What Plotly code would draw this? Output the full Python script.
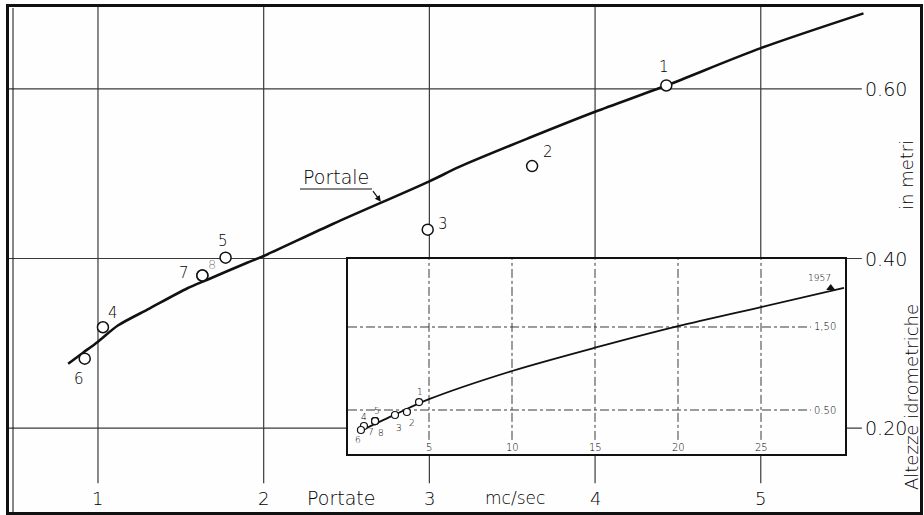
import plotly.graph_objects as go

W, H = 924, 515

# ---- data ----
# main rating curve: Portate (mc/sec) vs Altezze idrometriche (m)
curve_q = [0.82, 0.91, 1.0, 1.12, 1.31, 1.54, 1.66, 1.9, 2.0, 2.42, 3.0, 3.18, 3.6, 4.0, 4.43, 5.0, 5.62]
curve_h = [0.276, 0.289, 0.302, 0.321, 0.341, 0.365, 0.375, 0.395, 0.403, 0.441, 0.491, 0.508, 0.542, 0.573, 0.604, 0.648, 0.689]

# measured points (main chart)
pt_labels = ["1", "2", "3", "4", "5", "6", "7", "8"]
pt_q = [4.43, 3.62, 2.99, 1.03, 1.77, 0.92, 1.63, 1.63]
pt_h = [0.604, 0.509, 0.434, 0.319, 0.401, 0.282, 0.380, 0.380]

# inset: extended curve
inset_curve_q = [1.0, 3.0, 5.0, 10.0, 15.0, 20.0, 25.0, 30.0]
inset_curve_h = [0.26, 0.45, 0.63, 0.97, 1.25, 1.51, 1.74, 1.97]

# inset: measured points
inset_pt_q = [4.40, 3.67, 2.95, 1.08, 1.75, 0.90, 1.75, 1.75]
inset_pt_h = [0.596, 0.476, 0.440, 0.307, 0.367, 0.259, 0.367, 0.367]

# inset: 1957 maximum
max_label = ["1957"]
max_q = [29.2]
max_h = [1.97]

# ticks
x_ticks = [1, 2, 3, 4, 5]
x_tick_text = ["1", "2", "3", "4", "5"]
y_ticks = [0.20, 0.40, 0.60]
y_tick_text = ["0.20", "0.40", "0.60"]
inset_x_ticks = [5, 10, 15, 20, 25]
inset_x_text = ["5", "10", "15", "20", "25"]
inset_y_ticks = [0.5, 1.5]
inset_y_text = ["0.50", "1,50"]

# ---- layout helpers (pixel -> paper) ----
def px(x):
    return x / W


def py(y):
    return 1 - y / H


INK = "#111111"
TXT = "#000000"
GRID = "#3a3a3a"
FONT = "DejaVu Sans"
WEIGHT = 300


def f(size, color=TXT):
    return dict(family=FONT, size=size, color=color, weight=WEIGHT)


X_RANGE = [0.463, 5.961]
Y_RANGE = [0.1012, 0.6965]
X2_RANGE = [0.12, 30.06]
Y2_RANGE = [-0.03, 2.319]
GRID_END_X = 5.61
GRID_BOTTOM_Y = 0.135
INSET_GRID_BOTTOM = 0.14
INSET_GRID_END = 28.0

fig = go.Figure()

# main curve
fig.add_trace(go.Scatter(x=curve_q, y=curve_h, mode="lines",
                         line=dict(color=INK, width=2.6, shape="spline", smoothing=0.8),
                         xaxis="x", yaxis="y", hoverinfo="skip", showlegend=False))
# main points
fig.add_trace(go.Scatter(x=pt_q, y=pt_h, mode="markers",
                         marker=dict(symbol="circle", size=11, color="white",
                                     line=dict(color=INK, width=1.5)),
                         xaxis="x", yaxis="y", showlegend=False))

# inset curve
fig.add_trace(go.Scatter(x=inset_curve_q, y=inset_curve_h, mode="lines",
                         line=dict(color=INK, width=1.8, shape="spline", smoothing=0.8),
                         xaxis="x2", yaxis="y2", showlegend=False))
fig.add_trace(go.Scatter(x=inset_pt_q, y=inset_pt_h, mode="markers",
                         marker=dict(symbol="circle", size=7, color="white",
                                     line=dict(color=INK, width=1.2)),
                         xaxis="x2", yaxis="y2", showlegend=False))
fig.add_trace(go.Scatter(x=max_q, y=max_h, mode="markers",
                         marker=dict(symbol="triangle-up", size=8, color=INK),
                         xaxis="x2", yaxis="y2", showlegend=False))

shapes = []
# main vertical grid
for t in x_ticks:
    shapes.append(dict(type="line", xref="x", yref="y", x0=t, x1=t,
                       y0=GRID_BOTTOM_Y, y1=Y_RANGE[1],
                       line=dict(color=GRID, width=1.2), layer="below"))
# main horizontal grid
for t in y_ticks:
    shapes.append(dict(type="line", xref="x", yref="y", x0=X_RANGE[0], x1=GRID_END_X,
                       y0=t, y1=t, line=dict(color=GRID, width=1.2), layer="below"))
# second (thin) left border line
shapes.append(dict(type="line", xref="paper", yref="paper", x0=px(13), x1=px(13),
                   y0=py(512), y1=py(8), line=dict(color=INK, width=1)))
# inset grid
for t in inset_x_ticks:
    shapes.append(dict(type="line", xref="x2", yref="y2", x0=t, x1=t,
                       y0=INSET_GRID_BOTTOM, y1=Y2_RANGE[1],
                       line=dict(color=GRID, width=1, dash="dashdot"), layer="below"))
for t in inset_y_ticks:
    shapes.append(dict(type="line", xref="x2", yref="y2", x0=X2_RANGE[0], x1=INSET_GRID_END,
                       y0=t, y1=t, line=dict(color=GRID, width=1, dash="dashdot"),
                       layer="below"))
# underline of the "Portale" label
shapes.append(dict(type="line", xref="paper", yref="paper", x0=px(300), x1=px(372),
                   y0=py(189), y1=py(189), line=dict(color=INK, width=1)))

ann = []
C = dict(xanchor="center", yanchor="middle", showarrow=False)
# main x tick labels
for t, s in zip(x_ticks, x_tick_text):
    ann.append(dict(x=t, y=py(498), xref="x", yref="paper", text=s, font=f(18), **C))
# main y tick labels (right side)
for t, s in zip(y_ticks, y_tick_text):
    ann.append(dict(x=GRID_END_X, y=t, xref="x", yref="y", text=s, showarrow=False,
                    xanchor="left", yanchor="middle", xshift=1, font=f(19)))
# x axis title
ann.append(dict(x=px(341), y=py(498), xref="paper", yref="paper", text="Portate",
                font=f(19), **C))
ann.append(dict(x=px(515), y=py(498), xref="paper", yref="paper", text="mc/sec",
                font=f(17), **C))
# y axis title (right, vertical)
ann.append(dict(x=px(911), y=py(397), xref="paper", yref="paper",
                text="Altezze idrometriche", textangle=-90, font=f(18), **C))
ann.append(dict(x=px(906), y=py(175), xref="paper", yref="paper",
                text="in metri", textangle=-90, font=f(18), **C))
# curve label with arrow
ann.append(dict(x=px(336), y=py(177), xref="paper", yref="paper", text="Portale",
                font=f(19), **C))
ann.append(dict(x=2.707, y=0.467, xref="x", yref="y", text="", showarrow=True,
                ax=-9, ay=-12, arrowhead=2, arrowsize=1, arrowwidth=1.2,
                arrowcolor=INK))

# main point labels
main_shift = {"1": (-2, 18), "2": (16, 14), "3": (15, 6), "4": (10, 14),
              "5": (-3, 17), "6": (-6, -20), "7": (-18, 2), "8": (10, 11)}
for q, h, s in zip(pt_q, pt_h, pt_labels):
    dx, dy = main_shift[s]
    ann.append(dict(x=q, y=h, xref="x", yref="y", text=s, xshift=dx, yshift=dy,
                    font=f(15) if s != "8" else f(13, "#888"), **C))

# inset tick labels
for t, s in zip(inset_x_ticks, inset_x_text):
    ann.append(dict(x=t, y=py(447), xref="x2", yref="paper", text=s, font=f(10), **C))
for t, s in zip(inset_y_ticks, inset_y_text):
    ann.append(dict(x=INSET_GRID_END, y=t, xref="x2", yref="y2", text=s, showarrow=False,
                    xanchor="left", yanchor="middle", xshift=1, font=f(10)))
# inset point labels
inset_shift = {"1": (1, 10), "2": (5, -11), "3": (4, -13), "4": (0, 9),
               "5": (2, 10), "6": (-3, -10), "7": (-4, -11), "8": (6, -12)}
for q, h, s in zip(inset_pt_q, inset_pt_h, pt_labels):
    dx, dy = inset_shift[s]
    ann.append(dict(x=q, y=h, xref="x2", yref="y2", text=s, xshift=dx, yshift=dy,
                    font=f(9), **C))
ann.append(dict(x=max_q[0], y=max_h[0], xref="x2", yref="y2", text=max_label[0],
                xshift=-11, yshift=10, font=f(9), **C))

fig.update_layout(
    width=W, height=H,
    margin=dict(l=0, r=0, t=0, b=0),
    paper_bgcolor="#ffffff",
    plot_bgcolor="#fefefe",
    showlegend=False,
    shapes=shapes,
    annotations=ann,
    xaxis=dict(domain=[px(9), px(920)], range=X_RANGE, showgrid=False, zeroline=False,
               showticklabels=False, ticks="", showline=True, mirror=True,
               linecolor=INK, linewidth=2.5, anchor="y"),
    yaxis=dict(domain=[py(512), py(7)], range=Y_RANGE, showgrid=False, zeroline=False,
               showticklabels=False, ticks="", showline=True, mirror=True,
               linecolor=INK, linewidth=2.5, anchor="x"),
    xaxis2=dict(domain=[px(348), px(845)], range=X2_RANGE, showgrid=False, zeroline=False,
                showticklabels=False, ticks="", showline=True, mirror=True,
                linecolor=INK, linewidth=1.6, anchor="y2"),
    yaxis2=dict(domain=[py(454), py(259)], range=Y2_RANGE, showgrid=False, zeroline=False,
                showticklabels=False, ticks="", showline=True, mirror=True,
                linecolor=INK, linewidth=1.6, anchor="x2"),
)

fig.write_html("out.html", config={"displayModeBar": False},
               post_script="document.body.style.margin='0';")
